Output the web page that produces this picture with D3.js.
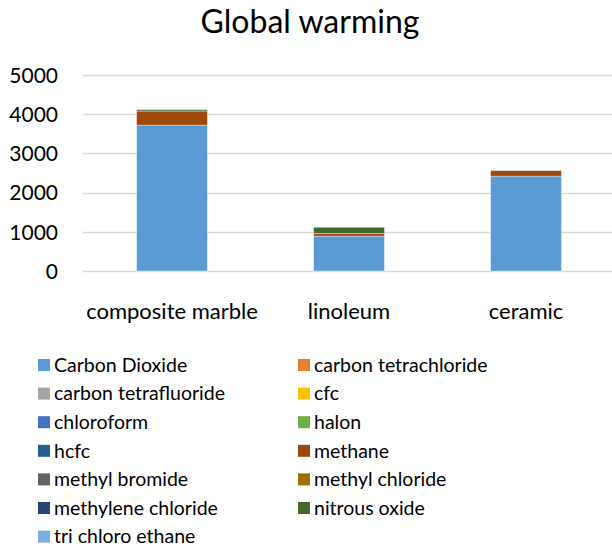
<!DOCTYPE html>
<html>
<head>
<meta charset="utf-8">
<script src="https://cdn.jsdelivr.net/npm/d3@7"></script>
<style>
  html, body { margin: 0; padding: 0; background: #fff; }
  svg { display: block; }
  text { font-family: Lato, "Open Sans", sans-serif; fill: #000; }
</style>
</head>
<body>
<svg id="chart" width="612" height="550"></svg>
<script>
// Flooring materials and their global warming contributions by gas
const categories = ["composite marble", "linoleum", "ceramic"];

const seriesNames = [
  "Carbon Dioxide", "carbon tetrachloride", "carbon tetrafluoride", "cfc",
  "chloroform", "halon", "hcfc", "methane", "methyl bromide",
  "methyl chloride", "methylene chloride", "nitrous oxide", "tri chloro ethane"
];

const carbonDioxide       = [3720, 890, 2420];
const carbonTetrachloride = [0, 0, 0];
const carbonTetrafluoride = [0, 0, 0];
const cfc                 = [0, 0, 0];
const chloroform          = [0, 0, 0];
const halon               = [0, 0, 0];
const hcfc                = [0, 0, 0];
const methane             = [360, 70, 140];
const methylBromide       = [0, 0, 0];
const methylChloride      = [0, 0, 0];
const methyleneChloride   = [0, 0, 0];
const nitrousOxide        = [35, 155, 8];
const triChloroEthane     = [0, 0, 0];

const yTicks = [0, 1000, 2000, 3000, 4000, 5000];

const seriesValues = [
  carbonDioxide, carbonTetrachloride, carbonTetrafluoride, cfc,
  chloroform, halon, hcfc, methane, methylBromide,
  methylChloride, methyleneChloride, nitrousOxide, triChloroEthane
];

const colors = [
  "#5B9BD5", "#ED7D31", "#A5A5A5", "#FFC000", "#4472C4", "#70AD47",
  "#255E91", "#9E480E", "#636363", "#997300", "#264478", "#43682B", "#7CAFDD"
];

// rows for d3.stack
const rows = categories.map((c, i) => {
  const r = { category: c };
  seriesNames.forEach((s, j) => { r[s] = seriesValues[j][i]; });
  return r;
});

const svg = d3.select("#chart");

const x = d3.scaleBand()
  .domain(categories)
  .range([83.5, 614.5])
  .paddingInner(0.6)
  .paddingOuter(0.3);

const y = d3.scaleLinear()
  .domain([0, 5000])
  .range([271, 75]);

// title
svg.append("text")
  .attr("x", 310)
  .attr("y", 33)
  .attr("text-anchor", "middle")
  .style("font-size", "32px")
  .text("Global warming");

// gridlines
svg.append("g")
  .selectAll("line")
  .data(yTicks)
  .join("line")
  .attr("x1", 83)
  .attr("x2", 612)
  .attr("y1", d => Math.round(y(d)) + 0.5)
  .attr("y2", d => Math.round(y(d)) + 0.5)
  .attr("stroke", "#d9d9d9")
  .attr("stroke-width", 1.3);

// y axis labels
const yAxis = d3.axisLeft(y).tickValues(yTicks).tickFormat(d3.format("d"))
  .tickSize(0).tickPadding(0);
const yg = svg.append("g")
  .attr("transform", "translate(58,0)")
  .call(yAxis);
yg.select(".domain").remove();
yg.selectAll("text")
  .style("font-family", "Lato, sans-serif")
  .style("font-size", "21px")
  .attr("fill", "#000")
  .attr("dy", "0.35em");

// stacked bars
const stack = d3.stack().keys(seriesNames);
const stacked = stack(rows);

svg.append("g")
  .selectAll("g")
  .data(stacked)
  .join("g")
  .attr("fill", (d, i) => colors[i])
  .selectAll("rect")
  .data(d => d.filter(p => p[1] - p[0] > 0))
  .join("rect")
  .attr("x", d => x(d.data.category))
  .attr("width", x.bandwidth())
  .attr("y", d => y(d[1]))
  .attr("height", d => y(d[0]) - y(d[1]))
  .attr("stroke", "rgba(255,255,255,0.45)")
  .attr("stroke-width", 0.8);

// category labels
const xAxis = d3.axisBottom(x).tickSize(0).tickPadding(0);
const xg = svg.append("g")
  .attr("transform", "translate(0,303)")
  .call(xAxis);
xg.select(".domain").remove();
xg.selectAll("text")
  .style("font-family", "Lato, sans-serif")
  .style("font-size", "22px")
  .attr("fill", "#000")
  .attr("dy", "0.35em")
  .attr("y", 8);

// legend, two columns
const legend = svg.append("g");
const items = legend.selectAll("g")
  .data(seriesNames)
  .join("g")
  .attr("transform", (d, i) => {
    const col = i % 2;
    const row = Math.floor(i / 2);
    return `translate(${col === 0 ? 38 : 298},${365 + row * 28.6})`;
  });

items.append("rect")
  .attr("x", 0)
  .attr("y", -6)
  .attr("width", 12)
  .attr("height", 12)
  .attr("fill", (d, i) => colors[i]);

items.append("text")
  .attr("x", 16)
  .attr("y", 0)
  .attr("dy", "0.35em")
  .style("font-size", "19.5px")
  .text(d => d);
</script>
</body>
</html>
